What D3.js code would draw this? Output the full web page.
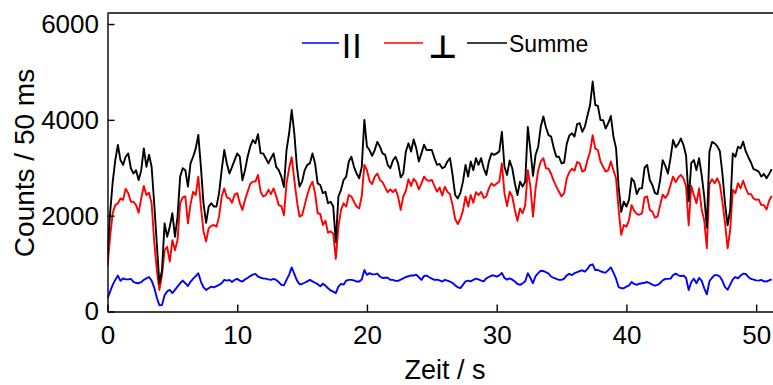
<!DOCTYPE html>
<html><head><meta charset="utf-8">
<script src="https://cdn.jsdelivr.net/npm/d3@7"></script>
<style>
html,body{margin:0;padding:0;background:#fff;}
svg{display:block;font-family:"Liberation Sans",Arial,sans-serif;}
</style>
</head><body>
<svg id="chart" width="773" height="385"></svg>
<script>
// sampling step of the read-off traces (seconds)
const stepSeconds = 0.2;
const xTicks = [0, 10, 20, 30, 40, 50];
const yTicks = [0, 2000, 4000, 6000];
const seriesLabels = ["||", "\u22A5", "Summe"];
const xTitle = "Zeit / s";
const yTitle = "Counts / 50 ms";

// ∥ (blue)
const parallel = [
275,415,555,660,750,640,690,670,670,680,
620,595,590,615,660,690,720,645,500,290,
130,135,340,420,450,385,450,520,590,645,
590,530,620,685,740,800,625,505,450,485,
520,505,530,555,590,660,645,660,615,660,
680,645,625,670,700,740,770,785,730,705,
690,685,670,660,680,660,615,555,545,660,
770,920,785,650,570,575,600,630,660,630,
600,570,525,580,540,485,440,415,385,520,
575,560,645,660,660,650,625,625,670,865,
765,800,775,775,790,730,700,705,705,660,
660,640,640,665,690,720,735,755,750,770,
715,660,740,750,715,685,660,665,650,625,
660,645,625,595,545,505,490,555,630,645,
630,660,685,670,645,630,690,720,750,750,
730,755,805,700,665,690,665,625,575,555,
590,630,800,700,590,740,800,850,845,820,
790,730,700,680,660,660,685,755,785,760,
800,820,845,860,830,890,965,985,865,865,
840,820,810,865,920,810,685,510,485,485,
520,545,615,575,555,580,590,600,615,590,
560,540,555,595,650,680,680,685,760,790,
755,740,750,700,450,615,685,590,700,645,
485,360,630,705,760,760,730,640,510,455,
560,670,720,690,750,790,785,720,680,665,
650,645,660,630,625,650,670
];

// ⊥ (red)
const perpendicular = [
940,1560,2050,2220,2260,2360,2330,2560,2470,2290,
2290,2220,2060,2360,2620,2430,2480,2260,1460,870,
450,760,1280,1350,1040,1490,1280,1490,2260,2380,
2400,1840,2240,2500,2430,2815,2190,1670,1460,1740,
1785,1805,1770,1980,2400,2570,2380,2360,2270,2440,
2470,2260,2120,2330,2500,2660,2710,2710,2850,2500,
2400,2430,2540,2450,2570,2410,2220,2200,2010,2675,
2990,3220,2745,2310,1980,2010,2220,2430,2605,2710,
2470,2050,2035,1805,1895,1645,1670,1630,1100,1770,
2120,2260,2190,2430,2400,2290,2190,2150,2410,3060,
2950,2725,2660,2815,2880,2745,2700,2590,2490,2550,
2490,2550,2400,2120,2400,2520,2760,2620,2770,2700,
2550,2675,2815,2745,2725,2745,2620,2500,2590,2420,
2605,2500,2450,2220,1930,1825,1930,2105,2400,2190,
2430,2270,2490,2430,2495,2370,2400,2570,2675,2625,
2670,2710,3090,2466,2200,2500,2400,2120,1895,2150,
2050,2220,2950,2605,1980,2570,2950,3130,3200,2990,
2980,2870,2720,2605,2500,2400,2470,2780,2905,2980,
2940,3120,3090,2920,2950,3160,3340,3680,3400,3370,
3130,3020,2920,2950,3130,2950,2780,2120,1600,1805,
1770,1910,2220,2100,2035,2020,2050,2380,2400,2120,
2085,1960,1980,2220,2440,2370,2450,2640,2815,2700,
2800,2850,2780,2605,1800,2620,2430,2260,2570,2130,
1900,1320,2660,2760,2675,2780,2660,2290,1855,1320,
1700,2540,2470,2675,2570,2730,2570,2450,2450,2360,
2330,2340,2220,2220,2130,2310,2410
];

// Summe (black)
const summe = [
1180,2050,2700,3160,3475,3160,3060,3230,3300,2990,
2880,2950,2745,2950,3405,3020,3270,3020,2260,1420,
590,860,1840,1560,1770,2050,1560,1980,2815,2990,
2950,2605,3090,3230,3400,3685,3020,2260,1850,2190,
2260,2190,2190,2470,2950,3370,3090,2880,3020,3160,
3300,3230,2740,2950,3230,3440,3580,3510,3700,3300,
3300,3200,3090,3200,3300,3020,2950,2815,2600,3370,
3720,4205,3720,3020,2605,2710,2950,3060,3090,3300,
3090,2675,2640,2470,2500,2260,2290,2190,1450,2400,
2540,2745,2815,3130,3230,3020,2880,2780,3020,4000,
3440,3370,3250,3370,3540,3440,3300,3270,3060,2990,
3150,3230,3090,2800,2880,3340,3510,3340,3590,3410,
3130,3300,3480,3370,3370,3370,3200,3060,3080,2990,
3020,3130,3200,2850,2430,2360,2470,2710,3060,2815,
3130,2950,3200,3060,3200,2990,2850,3130,3300,3270,
3300,3340,3750,3020,2850,3150,2990,2675,2430,2710,
2605,2710,3850,3370,2830,3270,3440,3860,4070,3840,
3680,3650,3410,3230,3230,3090,3110,3500,3670,3720,
3650,3910,3930,3750,3860,4090,4310,4800,4310,4290,
3995,3995,3820,3930,4080,3650,3410,2600,2080,2290,
2190,2330,2780,2710,2450,2570,2570,3000,3060,2745,
2640,2470,2450,2745,3160,3040,2880,3200,3580,3430,
3500,3610,3475,3250,2300,3100,3160,2950,3200,2850,
2400,1750,3340,3540,3510,3450,3350,2880,2260,1800,
2120,3300,3230,3440,3405,3545,3340,3220,3110,2970,
2950,2920,2815,2870,2780,2870,2970
];

const colors = ["#0000ff", "#ff0000", "#000000"];
const seriesData = [parallel, perpendicular, summe];

const svg = d3.select("#chart");
const L = 107.5, R = 773, T = 13, B = 311.5;
const x = d3.scaleLinear().domain([0, 51.3]).range([L, R]);
const y = d3.scaleLinear().domain([0, 6230]).range([B, T]);

svg.append("defs").append("clipPath").attr("id", "plotclip")
  .append("rect").attr("x", L).attr("y", T).attr("width", R - L).attr("height", B - T);

const line = d3.line().x((d, i) => x(i * stepSeconds)).y(d => y(d));
const plot = svg.append("g").attr("clip-path", "url(#plotclip)");
seriesData.forEach((arr, k) => {
  plot.append("path").datum(arr)
    .attr("fill", "none").attr("stroke", colors[k])
    .attr("stroke-width", 1.9).attr("stroke-linejoin", "round")
    .attr("d", line);
});

// axes
const fmt = d3.format("d");
const xAxis = d3.axisBottom(x).tickValues(xTicks).tickFormat(fmt).tickSizeInner(-7).tickSizeOuter(0).tickPadding(14);
const yAxis = d3.axisLeft(y).tickValues(yTicks).tickFormat(fmt).tickSizeInner(-7).tickSizeOuter(0).tickPadding(8.5);
const gx = svg.append("g").attr("transform", `translate(0,${B})`).call(xAxis);
const gy = svg.append("g").attr("transform", `translate(${L},0)`).call(yAxis);
[gx, gy].forEach(g => {
  g.select(".domain").attr("stroke", "#000").attr("stroke-width", 1.4);
  g.selectAll(".tick line").attr("stroke", "#000").attr("stroke-width", 1.4);
  g.selectAll(".tick text").attr("fill", "#000").style("font-size", "26px")
    .style("font-family", "'Liberation Sans', Arial, sans-serif");
});
// top frame line
svg.append("line").attr("x1", L).attr("x2", R).attr("y1", T).attr("y2", T)
  .attr("stroke", "#000").attr("stroke-width", 1.4);

// titles
svg.append("text").attr("x", 445).attr("y", 379).attr("text-anchor", "middle")
  .style("font-size", "27px").attr("fill", "#000").text(xTitle);
svg.append("text").attr("transform", "translate(34,163) rotate(-90)").attr("text-anchor", "middle")
  .style("font-size", "28px").attr("fill", "#000").text(yTitle);

// legend
const leg = svg.append("g");
const legItems = [
  {x1: 302, x2: 339, tx: 343, size: 25, font: "'Liberation Sans', Arial", ty: 53, weight: "bold", ls: 3.5},
  {x1: 384, x2: 423, tx: 428, size: 32, font: "'DejaVu Sans'", ty: 58, weight: "bold", ls: 0},
  {x1: 467, x2: 507, tx: 509, size: 23, font: "'Liberation Sans', Arial", ty: 52, weight: "normal", ls: 0}
];
legItems.forEach((it, k) => {
  leg.append("line").attr("x1", it.x1).attr("x2", it.x2).attr("y1", 43).attr("y2", 43)
    .attr("stroke", colors[k]).attr("stroke-width", 1.5);
  leg.append("text").attr("x", it.tx).attr("y", it.ty)
    .style("font-size", it.size + "px").style("font-family", it.font)
    .style("font-weight", it.weight).style("letter-spacing", it.ls + "px")
    .attr("fill", "#000").text(seriesLabels[k]);
});
</script>
</body></html>
